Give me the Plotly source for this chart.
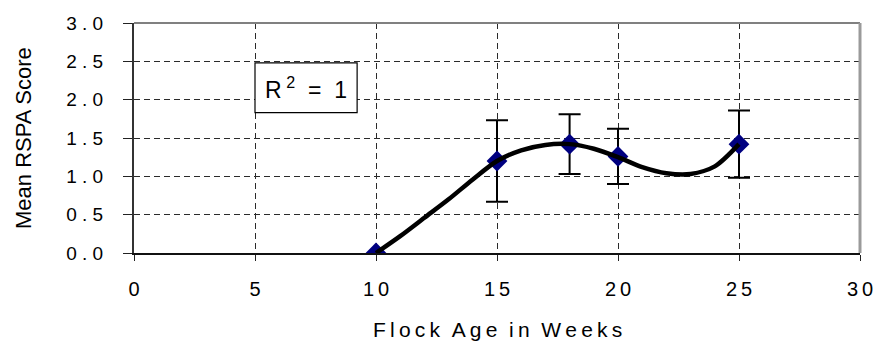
import plotly.graph_objects as go

# Mean RSPA score by flock age (weeks), with error bars
age_weeks = [10, 15, 18, 20, 25]
mean_score = [0.0, 1.20, 1.42, 1.26, 1.42]
score_error = [None, 0.53, 0.39, 0.36, 0.44]

# Polynomial trend line (R^2 = 1), values along the curve
trend_x = [10, 11, 12, 13, 14, 15, 16, 17, 18, 19, 20, 21, 22, 23, 24, 25]
trend_y = [0.0, 0.22, 0.46, 0.70, 0.96, 1.20, 1.34, 1.41, 1.42, 1.36, 1.25,
           1.12, 1.04, 1.03, 1.13, 1.42]

x_ticks = [0, 5, 10, 15, 20, 25, 30]
y_ticks = [0.0, 0.5, 1.0, 1.5, 2.0, 2.5, 3.0]

SP = "\u2009"  # thin space for the widely spaced label lettering


def spaced(s, gap=SP):
    return gap.join(list(s))


FONT = "Liberation Sans, Arial, sans-serif"

err_x = [a for a, e in zip(age_weeks, score_error) if e is not None]
err_y = [m for m, e in zip(mean_score, score_error) if e is not None]
err_v = [e for e in score_error if e is not None]

fig = go.Figure()

# error bars (drawn first so the markers sit on top)
fig.add_trace(go.Scatter(
    x=err_x, y=err_y, mode="markers",
    marker=dict(size=1, color="rgba(0,0,0,0)"),
    error_y=dict(type="data", array=err_v, visible=True,
                 color="black", thickness=2, width=11),
    hoverinfo="skip", showlegend=False,
))

# data points
fig.add_trace(go.Scatter(
    x=age_weeks, y=mean_score, mode="markers",
    marker=dict(symbol="diamond", size=16, color="#000080",
                line=dict(width=0)),
    showlegend=False,
))

# trend line
fig.add_trace(go.Scatter(
    x=trend_x, y=trend_y, mode="lines",
    line=dict(color="black", width=4.5, shape="spline", smoothing=0.8),
    showlegend=False,
))

grid = dict(showgrid=True, gridcolor="#2a2a2a", gridwidth=1, griddash="6px,4px")

fig.update_xaxes(
    range=[0, 30], tickvals=x_ticks,
    ticktext=[spaced(str(v)) for v in x_ticks],
    ticks="outside", ticklen=6, tickwidth=1, tickcolor="#222222",
    showline=True, linecolor="#111111", linewidth=2,
    zeroline=False, ticklabelstandoff=11,
    tickfont=dict(family=FONT, size=20, color="black"),
    **grid,
)
fig.update_yaxes(
    range=[0, 3], tickvals=y_ticks,
    ticktext=[" . ".join(f"{v:.1f}".split(".")) for v in y_ticks],
    ticks="outside", ticklen=9, tickwidth=1, tickcolor="#222222",
    showline=True, linecolor="#333333", linewidth=2,
    zeroline=False, ticklabelstandoff=16,
    tickfont=dict(family=FONT, size=19, color="black"),
    **grid,
)

# top and right frame of the plot area
fig.add_shape(type="line", xref="paper", yref="paper", x0=0, x1=1, y0=1, y1=1,
              line=dict(color="#808080", width=2))
fig.add_shape(type="line", xref="paper", yref="paper", x0=1, x1=1, y0=0, y1=1,
              line=dict(color="#9a9a9a", width=3))

# R^2 label box
fig.add_shape(type="rect", xref="x", yref="y", x0=5.0, x1=9.22, y0=1.83, y1=2.48,
              line=dict(color="black", width=1.2), fillcolor="white", layer="above")
fig.add_annotation(
    x=7.1, y=2.155, xref="x", yref="y", showarrow=False,
    text="R\u2009<sup>2</sup>\u00a0\u00a0=\u00a0\u00a01",
    font=dict(family=FONT, size=23, color="black"),
)

# axis titles
fig.add_annotation(
    xref="paper", yref="paper", x=0.5, y=0, yanchor="middle", yshift=-76,
    showarrow=False,
    text="\u00a0\u00a0".join(spaced(w) for w in "Flock Age in Weeks".split(" ")),
    font=dict(family=FONT, size=21, color="black"),
)
fig.add_annotation(
    xref="paper", yref="paper", x=0, y=0.5, xanchor="center", xshift=-111,
    textangle=-90, showarrow=False, text="Mean RSPA Score",
    font=dict(family=FONT, size=22, color="black"),
)

fig.update_layout(
    width=885, height=344,
    margin=dict(l=134, r=19, t=23, b=91),
    paper_bgcolor="white", plot_bgcolor="white",
    showlegend=False,
)

fig.write_html("out.html")
